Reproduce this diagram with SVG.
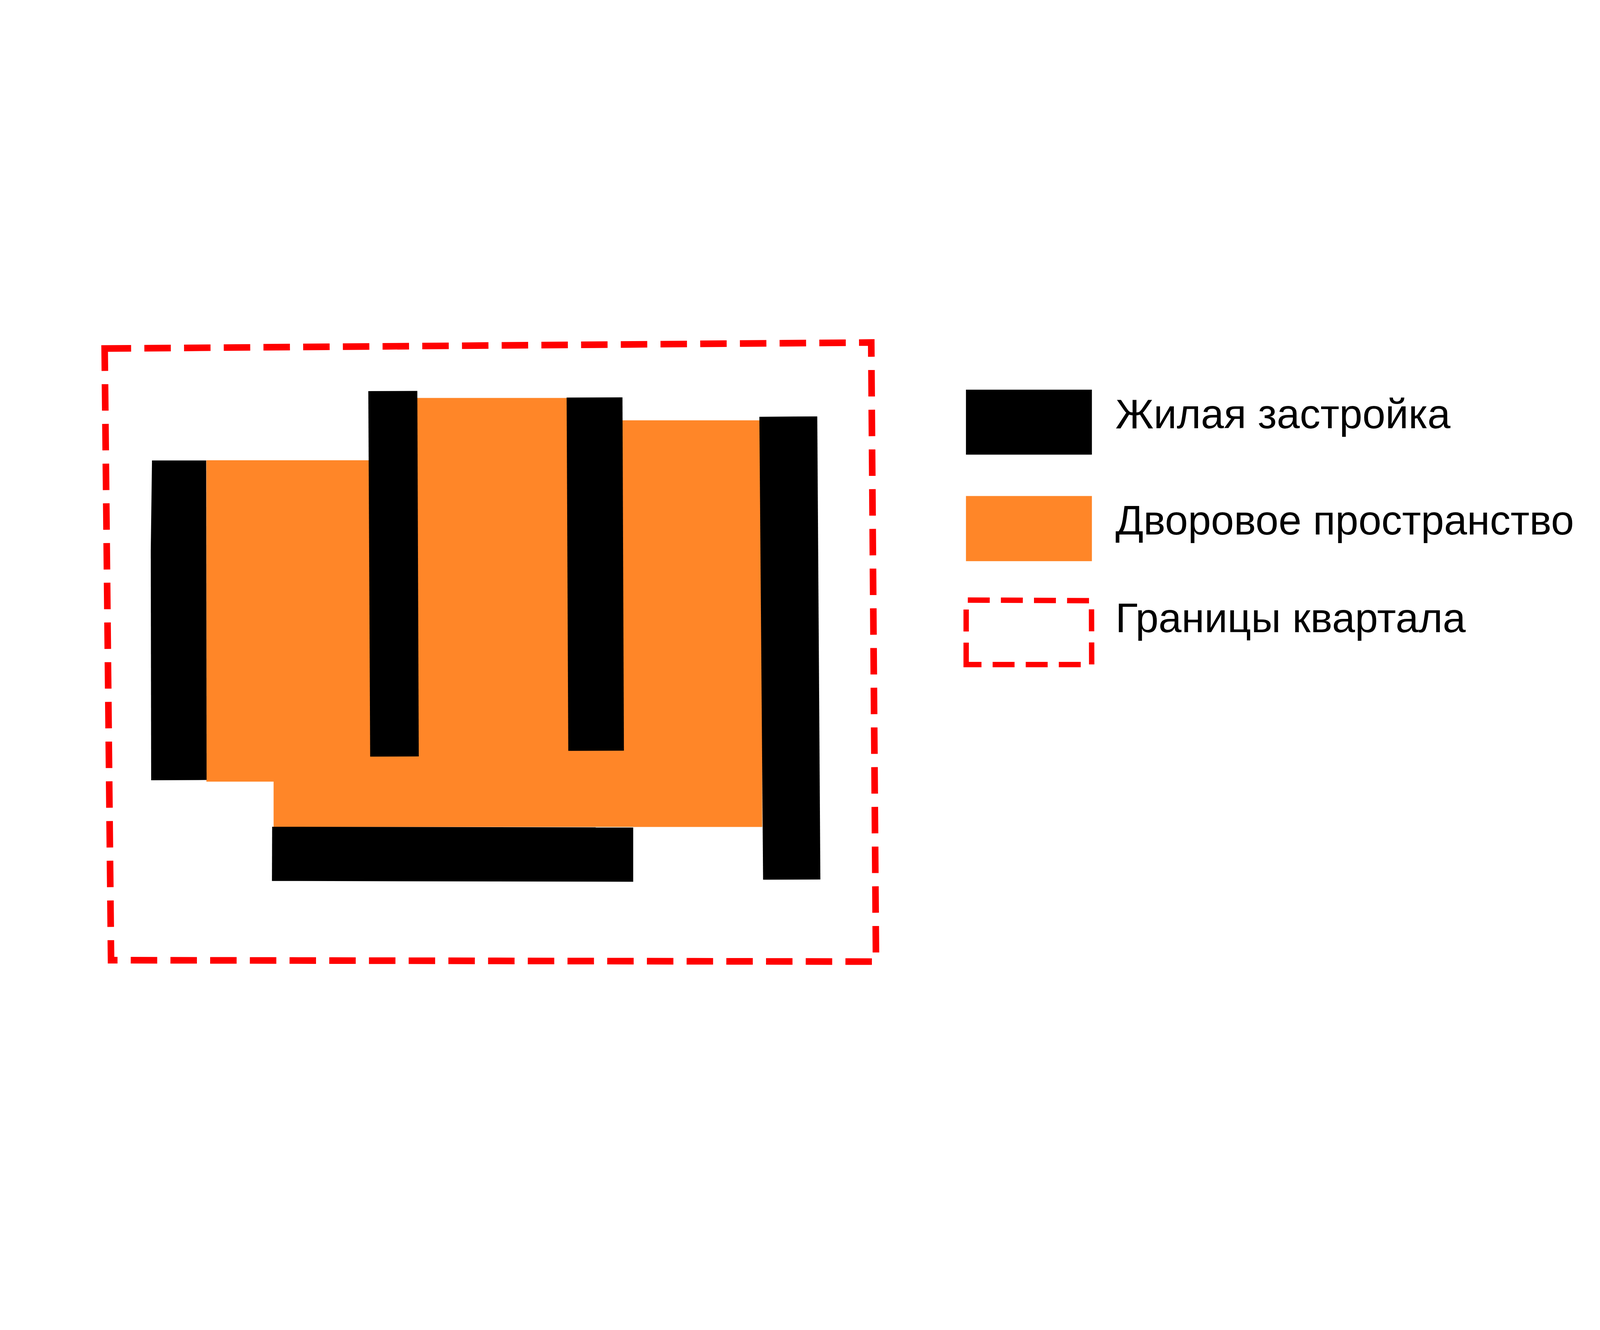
<svg xmlns="http://www.w3.org/2000/svg" width="7737" height="3404" viewBox="0 0 7737 3404" preserveAspectRatio="xMidYMid meet" style="width:100vw;height:100vh;display:block">
  <style>
    .bld { fill: #000000; }
    .yard { fill: #FF8628; }
    .bound { fill: none; stroke: #FF0000; stroke-linejoin: miter; stroke-linecap: butt; }
    .lbl { font-family: "Liberation Sans", Arial, sans-serif; font-size: 200px; fill: #000000; }
  </style>
  <rect x="0" y="0" width="7737" height="3404" fill="#FFFFFF"/>

  <g id="yard">
    <polygon class="yard" points="998,712 1900,712 1900,411 2870,411 2870,519 3686,519 3686,2485 1323,2485 1323,2266 998,2266"/>
  </g>

  <g id="buildings">
    <polygon id="bld-1" class="bld" points="735,713 997,713 999,2258 731,2259 729,1150"/>
    <polygon id="bld-2" class="bld" points="1781,378 2018,377 2025,2144 1790,2145"/>
    <polygon id="bld-3" class="bld" points="2740,409 3010,408 3017,2116 2748,2117"/>
    <polygon id="bld-4" class="bld" points="3672,502 3952,500 3967,2739 3690,2740"/>
    <polygon id="bld-5" class="bld" points="1316,2484 3062,2487 3062,2750 1315,2746"/>
  </g>

  <g id="quarter-boundary">
    <path class="bound" stroke-width="32" stroke-dasharray="128 64" d="M506,172 L4213,143 L4236,3136 L537,3129 Z"/>
  </g>

  <g id="legend">
    <g id="legend-buildings">
      <rect x="4671" y="371" width="609" height="314" class="bld"/>
      <text x="5394" y="557" class="lbl">Жилая застройка</text>
    </g>
    <g id="legend-yard">
      <rect x="4671" y="885" width="609" height="315" class="yard"/>
      <text x="5394" y="1072" class="lbl">Дворовое пространство</text>
    </g>
    <g id="legend-boundary">
      <path class="bound" stroke-width="26" stroke-dasharray="106 54" d="M4672,1700 L4672,1388 L5278,1391 L5279,1700 Z"/>
      <text x="5394" y="1544" class="lbl">Границы квартала</text>
    </g>
  </g>
</svg>
